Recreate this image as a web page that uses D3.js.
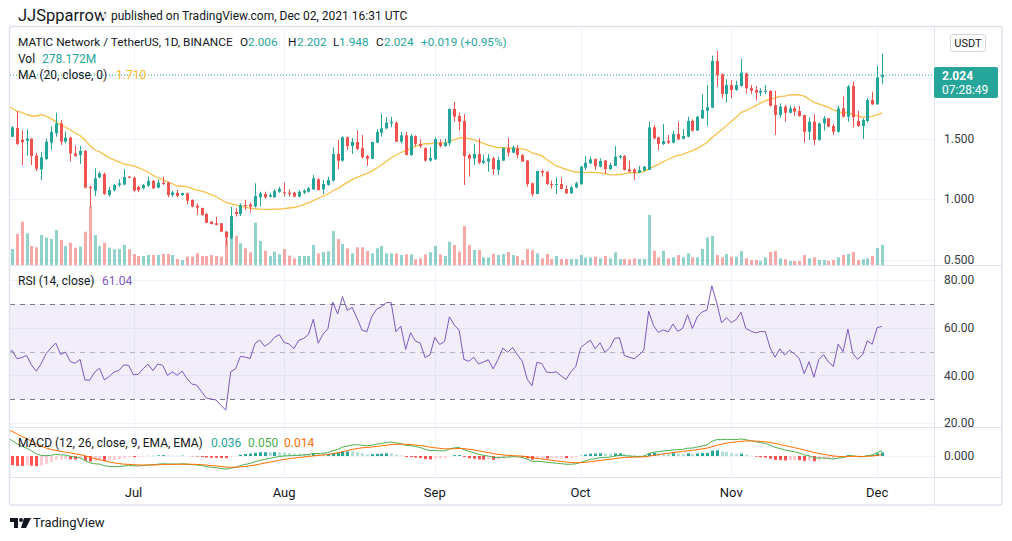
<!DOCTYPE html>
<html><head><meta charset="utf-8">
<script src="https://cdn.jsdelivr.net/npm/d3@7"></script>
<style>
body{margin:0;background:#fff;}
svg text{font-family:Roboto,"Noto Sans",sans-serif;}
</style></head><body>
<svg id="c" width="1012" height="541"></svg>
<script>
// ---------------- DATA ----------------
const startDate = "2021-06-06";
const monthLabels = ["Jul","Aug","Sep","Oct","Nov","Dec"];
const priceTicks = [0.5, 1.0, 1.5, 2.0];
const priceTickLabels = [0.5, 1.0, 1.5];
const rsiTicks = [20, 40, 60, 80];
const macdTicks = [0];
// estimated closes before the visible window (May 1 - Jun 5), used only to warm up indicators
const priorCloses = [0.78,0.74,0.77,0.72,0.80,0.84,0.83,0.93,0.96,0.92,1.03,0.95,1.18,1.45,1.55,1.75,1.94,
 1.95,1.655,1.85,1.605,1.25,1.124,1.70,1.988,2.12,2.06,1.80,1.884,1.85,1.80,1.836,1.98,1.941,1.50,1.516];
const opens = [1.515,1.587,1.490,1.480,1.499,1.360,1.245,1.330,1.466,1.543,
1.625,1.474,1.507,1.377,1.364,1.397,1.100,1.069,1.179,1.207,
1.033,1.074,1.116,1.120,1.185,1.176,1.100,1.088,1.110,1.149,
1.094,1.135,1.135,1.033,1.052,1.033,1.047,0.992,0.945,0.926,
0.876,0.813,0.800,0.800,0.730,0.675,0.893,0.876,0.950,0.956,
0.937,1.014,1.041,1.020,1.014,1.060,1.055,1.052,1.052,1.020,
1.052,1.060,1.080,1.163,1.080,1.116,1.152,1.372,1.317,1.510,
1.438,1.471,1.419,1.355,1.333,1.466,1.548,1.584,1.625,1.631,
1.474,1.526,1.364,1.520,1.455,1.421,1.317,1.328,1.466,1.438,
1.460,1.744,1.686,1.645,1.364,1.333,1.372,1.300,1.309,1.336,
1.240,1.317,1.421,1.383,1.419,1.364,1.317,1.130,1.041,1.231,
1.226,1.124,1.121,1.124,1.083,1.047,1.096,1.121,1.259,1.295,
1.330,1.267,1.317,1.248,1.273,1.344,1.355,1.245,1.245,1.218,
1.234,1.240,1.592,1.510,1.455,1.482,1.466,1.537,1.499,1.515,
1.645,1.565,1.667,1.730,1.755,2.140,2.030,1.868,1.942,1.901,
1.934,2.039,1.915,1.901,1.879,1.887,1.893,1.777,1.694,1.763,
1.713,1.749,1.727,1.694,1.556,1.639,1.488,1.625,1.667,1.603,
1.556,1.749,1.680,1.934,1.645,1.603,1.645,1.818,1.782,2.006];
const highs = [1.603,1.727,1.570,1.576,1.500,1.380,1.390,1.500,1.600,1.713,
1.653,1.556,1.515,1.440,1.440,1.405,1.110,1.253,1.226,1.218,
1.100,1.124,1.163,1.248,1.190,1.185,1.110,1.124,1.185,1.157,
1.163,1.185,1.143,1.069,1.074,1.052,1.052,0.997,0.964,0.928,
0.887,0.818,0.854,0.800,0.736,0.937,0.923,0.964,0.992,0.970,
1.130,1.060,1.060,1.052,1.080,1.100,1.135,1.080,1.060,1.074,
1.080,1.100,1.198,1.171,1.157,1.185,1.427,1.488,1.520,1.515,
1.504,1.565,1.529,1.364,1.474,1.576,1.702,1.675,1.680,1.639,
1.554,1.554,1.537,1.526,1.493,1.427,1.427,1.507,1.493,1.499,
1.750,1.804,1.713,1.702,1.377,1.455,1.501,1.364,1.372,1.350,
1.350,1.427,1.507,1.443,1.446,1.372,1.322,1.135,1.234,1.245,
1.226,1.152,1.179,1.179,1.113,1.110,1.143,1.273,1.355,1.350,
1.336,1.336,1.322,1.300,1.438,1.364,1.364,1.317,1.253,1.273,
1.273,1.640,1.612,1.515,1.620,1.529,1.565,1.639,1.579,1.680,
1.658,1.686,1.865,1.942,2.185,2.223,2.039,1.989,1.983,1.978,
2.157,2.044,1.942,1.934,1.915,1.942,1.901,1.895,1.791,1.777,
1.771,1.769,1.769,1.694,1.675,1.702,1.631,1.686,1.667,1.620,
1.769,1.846,1.942,1.970,1.730,1.667,1.832,1.887,2.099,2.202];
const lows = [1.510,1.446,1.280,1.360,1.280,1.230,1.157,1.320,1.405,1.515,
1.446,1.460,1.310,1.350,1.290,1.088,0.940,1.025,1.171,1.033,
1.020,1.060,1.100,1.113,1.170,1.060,1.058,1.080,1.100,1.083,
1.088,1.116,1.014,1.020,1.014,1.025,0.959,0.931,0.868,0.862,
0.799,0.790,0.782,0.725,0.620,0.667,0.854,0.860,0.910,0.887,
0.930,0.942,1.005,1.014,1.010,1.050,1.020,1.020,1.014,1.014,
1.041,1.052,1.074,1.069,1.041,1.110,1.143,1.245,1.309,1.405,
1.372,1.405,1.336,1.273,1.328,1.460,1.515,1.576,1.592,1.471,
1.460,1.360,1.355,1.438,1.420,1.309,1.309,1.322,1.427,1.432,
1.440,1.639,1.565,1.116,1.185,1.281,1.289,1.289,1.226,1.198,
1.198,1.315,1.350,1.377,1.336,1.306,1.102,1.019,1.041,1.185,
1.116,1.085,1.041,1.080,1.041,1.041,1.088,1.121,1.240,1.289,
1.240,1.262,1.207,1.240,1.273,1.330,1.234,1.218,1.157,1.212,
1.231,1.240,1.493,1.405,1.446,1.455,1.460,1.488,1.493,1.510,
1.556,1.565,1.661,1.603,1.750,1.928,1.832,1.796,1.832,1.895,
1.928,1.873,1.868,1.813,1.851,1.868,1.763,1.529,1.672,1.639,
1.708,1.686,1.680,1.466,1.488,1.446,1.482,1.565,1.592,1.529,
1.548,1.675,1.639,1.592,1.598,1.496,1.631,1.777,1.782,1.948];
const closes = [1.592,1.455,1.470,1.500,1.355,1.250,1.344,1.474,1.554,1.625,
1.474,1.507,1.377,1.355,1.397,1.094,1.090,1.171,1.212,1.041,
1.074,1.116,1.130,1.180,1.175,1.069,1.074,1.116,1.149,1.088,
1.135,1.124,1.033,1.055,1.025,1.050,0.986,0.937,0.928,0.868,
0.804,0.793,0.785,0.730,0.680,0.860,0.876,0.950,0.945,0.937,
1.025,1.047,1.014,1.033,1.066,1.083,1.047,1.041,1.020,1.060,
1.069,1.088,1.171,1.074,1.124,1.157,1.372,1.317,1.510,1.438,
1.471,1.413,1.344,1.333,1.471,1.554,1.584,1.631,1.636,1.474,
1.526,1.364,1.520,1.455,1.438,1.317,1.339,1.496,1.438,1.466,
1.744,1.680,1.639,1.355,1.333,1.372,1.300,1.317,1.336,1.245,
1.322,1.421,1.383,1.427,1.364,1.309,1.124,1.041,1.231,1.218,
1.124,1.118,1.124,1.083,1.047,1.096,1.130,1.267,1.300,1.328,
1.270,1.314,1.248,1.281,1.350,1.355,1.240,1.229,1.218,1.240,
1.267,1.592,1.501,1.455,1.479,1.466,1.537,1.493,1.520,1.645,
1.565,1.680,1.736,1.758,2.140,2.025,1.868,1.942,1.901,1.942,
2.044,1.915,1.895,1.879,1.893,1.893,1.771,1.694,1.763,1.713,
1.749,1.722,1.686,1.556,1.639,1.488,1.625,1.667,1.598,1.556,
1.749,1.680,1.928,1.675,1.603,1.653,1.818,1.782,2.005,2.024];
// volume in millions
const volumes = [222,431,602,440,264,245,417,380,361,486,
347,264,310,241,255,463,824,417,264,310,
241,218,222,278,218,153,125,125,139,139,
139,153,153,139,83,69,116,116,162,125,
125,139,125,116,357,403,407,301,232,176,
588,333,199,125,185,148,222,130,93,125,
125,125,278,162,181,190,472,361,292,232,
162,245,245,194,162,232,264,162,162,162,
139,148,148,79,93,148,176,264,148,125,
324,278,185,542,278,208,208,106,106,153,
139,153,181,139,125,69,222,208,162,93,
153,83,125,83,83,83,83,139,102,106,
116,93,125,93,176,83,83,79,93,83,
83,695,199,106,199,93,106,139,106,162,
106,106,222,384,403,139,106,153,116,116,
194,95,69,69,56,106,181,194,93,79,
56,56,56,139,93,106,69,69,56,69,
106,139,153,181,69,79,93,125,236,278.172];

// ---------------- INDICATORS ----------------
const all = priorCloses.concat(closes);
const P = priorCloses.length;
function ema(src, n, alpha){
  const a = alpha || 2/(n+1); const out = src.map(()=>null);
  let cnt=0, sum=0, prev=null;
  for(let i=0;i<src.length;i++){const v=src[i]; if(v==null) continue;
    if(prev==null){cnt++; sum+=v; if(cnt===n){prev=sum/n; out[i]=prev;}}
    else {prev=a*v+(1-a)*prev; out[i]=prev;}}
  return out;
}
const ma20 = all.map((_,j)=> j<19?null:d3.mean(all.slice(j-19,j+1)));
const ups = all.map((v,j)=> j===0?null:Math.max(v-all[j-1],0));
const dns = all.map((v,j)=> j===0?null:Math.max(all[j-1]-v,0));
const ru = ema(ups,14,1/14), rd = ema(dns,14,1/14);
const rsi = all.map((_,j)=> ru[j]==null?null:(rd[j]===0?100:100-100/(1+ru[j]/rd[j])));
const e12 = ema(all,12), e26 = ema(all,26);
const macd = all.map((_,j)=> (e12[j]==null||e26[j]==null)?null:e12[j]-e26[j]);
const sig = ema(macd,9);
const hist = macd.map((v,j)=> (v==null||sig[j]==null)?null:v-sig[j]);

// ---------------- SCALES ----------------
const svg = d3.select("#c");
const parse = d3.utcParse("%Y-%m-%d");
const d0 = parse(startDate);
const dateAt = i => d3.utcDay.offset(d0, i);
const N = closes.length;
const x = d3.scaleUtc().domain([dateAt(0), dateAt(N-1)]).range([12, 12+4.86*(N-1)]);
const xi = i => x(dateAt(i));
const yP = d3.scaleLinear().domain([0.5, 2.0]).range([259.5, 78]);
const yV = d3.scaleLinear().domain([0, 1000]).range([265, 193]);
const yR = d3.scaleLinear().domain([20, 80]).range([423, 280]);
const yM = d3.scaleLinear().domain([-0.21, 0.29]).range([477, 427]);

const GREEN="#26a69a", RED="#ef5350", GRID="#f0f3fa", BORDER="#e0e3eb", TXT="#131722";
const plotL=10, plotR=934;

const defs = svg.append("defs");
function clip(id,x0,y0,w,h){defs.append("clipPath").attr("id",id).append("rect").attr("x",x0).attr("y",y0).attr("width",w).attr("height",h);}
clip("cp",plotL,27,plotR-plotL,238.5);
clip("cr",plotL,266,plotR-plotL,161);
clip("cm",plotL,428,plotR-plotL,49);
clip("cra",plotR,266,70,161);

// ---------------- GRID ----------------
const months = d3.utcMonth.range(d3.utcMonth.ceil(dateAt(0)), dateAt(N-1));
const grid = svg.append("g");
grid.selectAll(".vg").data(months).join("line")
  .attr("x1",d=>Math.round(x(d))+0.5).attr("x2",d=>Math.round(x(d))+0.5)
  .attr("y1",27).attr("y2",477).attr("stroke",GRID);
grid.selectAll(".hp").data(priceTicks).join("line")
  .attr("x1",plotL).attr("x2",plotR).attr("y1",d=>Math.round(yP(d))+0.5).attr("y2",d=>Math.round(yP(d))+0.5).attr("stroke",GRID);
grid.selectAll(".hr").data(rsiTicks).join("line")
  .attr("x1",plotL).attr("x2",plotR).attr("y1",d=>Math.round(yR(d))+0.5).attr("y2",d=>Math.round(yR(d))+0.5).attr("stroke",GRID);
grid.selectAll(".hm").data(macdTicks).join("line")
  .attr("x1",plotL).attr("x2",plotR).attr("y1",d=>Math.round(yM(d))+0.5).attr("y2",d=>Math.round(yM(d))+0.5).attr("stroke",GRID);

// ---------------- PRICE PANE ----------------
const pp = svg.append("g").attr("clip-path","url(#cp)");
const idx = d3.range(N);
const up = i => closes[i] >= opens[i];
pp.selectAll(".vol").data(idx).join("rect")
  .attr("x",i=>Math.round(xi(i))-1).attr("width",3)
  .attr("y",i=>yV(volumes[i])).attr("height",i=>yV(0)-yV(volumes[i]))
  .attr("fill",i=>up(i)?GREEN:RED).attr("fill-opacity",0.5);
const lineIdx = d3.range(-1,N);
pp.append("path").datum(lineIdx).attr("fill","none").attr("stroke","#f7c04a").attr("stroke-width",1.3)
  .attr("d",d3.line().x(i=>xi(i)).y(i=>yP(ma20[P+i])));
pp.append("line").attr("x1",plotL).attr("x2",plotR).attr("y1",yP(closes[N-1])).attr("y2",yP(closes[N-1]))
  .attr("stroke",GREEN).attr("stroke-dasharray","1,2");
pp.selectAll(".wick").data(idx).join("line")
  .attr("x1",i=>Math.round(xi(i))+0.5).attr("x2",i=>Math.round(xi(i))+0.5)
  .attr("y1",i=>yP(highs[i])).attr("y2",i=>yP(lows[i]))
  .attr("stroke",i=>up(i)?GREEN:RED);
pp.selectAll(".body").data(idx).join("rect")
  .attr("x",i=>Math.round(xi(i))-1).attr("width",3)
  .attr("y",i=>yP(Math.max(opens[i],closes[i])))
  .attr("height",i=>Math.max(1,Math.abs(yP(opens[i])-yP(closes[i]))))
  .attr("fill",i=>up(i)?GREEN:RED);

// ---------------- RSI PANE ----------------
const rp = svg.append("g").attr("clip-path","url(#cr)");
rp.append("rect").attr("x",plotL).attr("width",plotR-plotL).attr("y",yR(70)).attr("height",yR(30)-yR(70))
  .attr("fill","#7e57c2").attr("fill-opacity",0.1);
[[70,"#787b86"],[50,"#b2b5be"],[30,"#787b86"]].forEach(([v,c])=>{
  rp.append("line").attr("x1",plotL).attr("x2",plotR).attr("y1",Math.round(yR(v))+0.5).attr("y2",Math.round(yR(v))+0.5)
    .attr("stroke",c).attr("stroke-dasharray","5,5");
});
rp.append("path").datum(lineIdx).attr("fill","none").attr("stroke","#7e57c2").attr("stroke-width",1)
  .attr("d",d3.line().x(i=>xi(i)).y(i=>yR(rsi[P+i])));

// ---------------- MACD PANE ----------------
const mp = svg.append("g").attr("clip-path","url(#cm)");
mp.selectAll(".h").data(idx).join("rect")
  .attr("x",i=>Math.round(xi(i))-1).attr("width",3)
  .attr("y",i=>Math.min(yM(0),yM(hist[P+i])))
  .attr("height",i=>Math.abs(yM(hist[P+i])-yM(0)))
  .attr("fill",i=>{const h=hist[P+i], p=hist[P+i-1];
    return h>=0 ? (h>p?"#26a69a":"#b2dfdb") : (h<p?"#ff5252":"#ffcdd2");});
mp.append("path").datum(lineIdx).attr("fill","none").attr("stroke","#4caf50").attr("stroke-width",1)
  .attr("d",d3.line().x(i=>xi(i)).y(i=>yM(macd[P+i])));
mp.append("path").datum(lineIdx).attr("fill","none").attr("stroke","#ff6d00").attr("stroke-width",1)
  .attr("d",d3.line().x(i=>xi(i)).y(i=>yM(sig[P+i])));

// ---------------- FRAME / SEPARATORS ----------------
svg.append("rect").attr("x",9.5).attr("y",26.5).attr("width",992.5).attr("height",478.5).attr("rx",2)
  .attr("fill","none").attr("stroke",BORDER).attr("stroke-width",1.5);
svg.append("line").attr("x1",plotR+0.5).attr("x2",plotR+0.5).attr("y1",27).attr("y2",505).attr("stroke",BORDER);
[265.5,427.5,477.5].forEach(y=>svg.append("line").attr("x1",plotL).attr("x2",1002).attr("y1",y).attr("y2",y).attr("stroke",BORDER));

// ---------------- AXES ----------------
function axLabels(g, ticks, scale, fmt){
  g.selectAll("text.t").data(ticks).join("text").attr("x",944).attr("y",d=>scale(d)).attr("dy","0.35em")
   .attr("fill","#363a45").attr("font-size","12px").text(fmt);
}
axLabels(svg.append("g"), priceTickLabels, yP, d=>d.toFixed(3));
axLabels(svg.append("g").attr("clip-path","url(#cra)"), rsiTicks, yR, d=>d.toFixed(2));
axLabels(svg.append("g"), macdTicks, yM, d=>d.toFixed(3));
const lp = svg.append("g");
lp.append("rect").attr("x",934).attr("y",67).attr("width",64).attr("height",31).attr("rx",2).attr("fill",GREEN);
lp.append("text").attr("x",942).attr("y",80).attr("fill","#fff").attr("font-size","12px").attr("font-weight","bold").text(closes[N-1].toFixed(3));
lp.append("text").attr("x",942).attr("y",94).attr("fill","#fff").attr("font-size","12px").text("07:28:49");
svg.append("rect").attr("x",950.5).attr("y",34.5).attr("width",35).attr("height",17).attr("rx",3).attr("fill","#fff").attr("stroke","#d1d4dc");
svg.append("text").attr("x",968).attr("y",46.5).attr("text-anchor","middle").attr("font-size","11px").attr("fill",TXT).text("USDT");
svg.append("g").selectAll("text").data(months).join("text")
  .attr("x",d=>x(d)).attr("y",497).attr("text-anchor","middle").attr("font-size","13px").attr("fill",TXT)
  .text((d,i)=>monthLabels[i]);

// ---------------- LEGENDS / HEADER ----------------
function seg(y, size, parts){
  const t = svg.append("text").attr("y",y).attr("font-size",size);
  parts.forEach(([px,s,c])=>t.append("tspan").attr("x",px).attr("fill",c).text(s));
}
svg.append("text").attr("x",18).attr("y",21).attr("font-size","16.5px").attr("fill",TXT).text("JJSpparrow");
svg.append("circle").attr("cx",104.5).attr("cy",16).attr("r",2.5).attr("fill","#e0e3eb");
svg.append("text").attr("x",111).attr("y",20).attr("font-size","12px").attr("fill",TXT).text("published on TradingView.com, Dec 02, 2021 16:31 UTC");
seg(46,"11.8px",[[18,"MATIC Network / TetherUS, 1D, BINANCE",TXT],[240,"O",TXT],[248,"2.006",GREEN],[288,"H",TXT],[297,"2.202",GREEN],
  [333,"L",TXT],[339,"1.948",GREEN],[376,"C",TXT],[384,"2.024",GREEN],[421,"+0.019 (+0.95%)",GREEN]]);
seg(63,"12px",[[18,"Vol",TXT],[42,"278.172M",GREEN]]);
seg(79,"12px",[[18,"MA (20, close, 0)",TXT],[116,"1.710","#f7b924"]]);
seg(285,"12px",[[18,"RSI (14, close)",TXT],[102,"61.04","#7e57c2"]]);
seg(447,"12px",[[18,"MACD (12, 26, close, 9, EMA, EMA)",TXT],[211,"0.036",GREEN],[248,"0.050","#4caf50"],[284,"0.014","#ff6d00"]]);
const lg = svg.append("g").attr("fill",TXT);
lg.append("path").attr("d","M10,518 H18 V528 H14 V522 H10 Z");
lg.append("circle").attr("cx",21).attr("cy",520).attr("r",2);
lg.append("path").attr("d","M24,518 H31 L26,528 H21 Z");
svg.append("text").attr("x",33).attr("y",527).attr("font-size","13px").attr("fill",TXT).text("TradingView");
</script>
</body></html>
